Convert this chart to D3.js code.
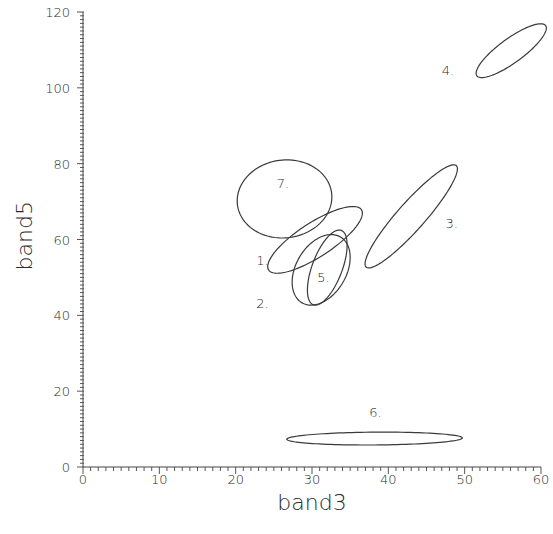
<!DOCTYPE html>
<html lang="en">
<head>
  <meta charset="UTF-8">
  <title>band3 vs band5 clusters</title>
  <script src="https://d3js.org/d3.v7.min.js"></script>
  <style>
    body { margin: 0; background: #fff; }
    text { font-family: "DejaVu Sans", sans-serif; font-weight: 200; fill: #2a2a2a; }
    .ell { fill: none; stroke: #3a3a3a; stroke-width: 1.2px; }
  </style>
</head>
<body>
  <svg width="553" height="534"></svg>
  <script>
    // cluster ellipses: mean, half-range, correlation
    const clusters = ["1.", "2.", "3.", "4.", "5.", "6.", "7."];
    const meanX = [30.4, 31.2, 43.0, 56.1, 32.0, 38.2, 26.4];
    const meanY = [59.9, 52.0, 66.1, 109.8, 52.6, 7.5, 70.7];
    const halfX = [6.2, 3.8, 6.05, 4.6, 2.6, 11.5, 6.2];
    const halfY = [8.8, 9.3, 13.6, 7.1, 9.9, 1.7, 10.3];
    const corr = [0.8, 0.35, 0.92, 0.84, 0.6, 0.1, 0.05];
    const labelX = [23.5, 23.5, 48.3, 47.8, 31.5, 38.3, 26.2];
    const labelY = [54.6, 43.3, 64.4, 104.7, 50.1, 14.5, 74.9];

    const xTicks = [0, 10, 20, 30, 40, 50, 60];
    const yTicks = [0, 20, 40, 60, 80, 100, 120];

    const svg = d3.select("svg");
    const x = d3.scaleLinear().domain([0, 60]).range([83, 541]);
    const y = d3.scaleLinear().domain([0, 120]).range([467, 12]);

    // axes with minor ticks every unit
    const gx = svg.append("g").attr("transform", `translate(0,${y(0)})`);
    gx.append("line").attr("x1", x(0)).attr("x2", x(60)).attr("stroke", "#444");
    gx.selectAll(".mt").data(d3.range(0, 61)).enter().append("line")
      .attr("x1", d => x(d)).attr("x2", d => x(d))
      .attr("y1", 0).attr("y2", d => d % 10 === 0 ? 7 : 4)
      .attr("stroke", "#555");
    gx.selectAll(".tl").data(xTicks).enter().append("text")
      .attr("x", d => x(d)).attr("y", 17)
      .attr("text-anchor", "middle").attr("font-size", 13)
      .text(d => d);

    const gy = svg.append("g").attr("transform", `translate(${x(0)},0)`);
    gy.append("line").attr("y1", y(0)).attr("y2", y(120)).attr("stroke", "#444");
    gy.selectAll(".mt").data(d3.range(0, 121)).enter().append("line")
      .attr("y1", d => y(d)).attr("y2", d => y(d))
      .attr("x1", d => d % 20 === 0 ? -6 : -3).attr("x2", 1)
      .attr("stroke", "#555");
    gy.selectAll(".tl").data(yTicks).enter().append("text")
      .attr("x", -13).attr("y", d => y(d) + 5)
      .attr("text-anchor", "end").attr("font-size", 13)
      .text(d => d);

    svg.append("text").attr("x", (x(0) + x(60)) / 2).attr("y", 510)
      .attr("text-anchor", "middle").attr("font-size", 22).text("band3");
    svg.append("text").attr("transform", `translate(32,${y(61)}) rotate(-90)`)
      .attr("text-anchor", "middle").attr("font-size", 22).text("band5");

    const line = d3.line().x(p => x(p[0])).y(p => y(p[1])).curve(d3.curveLinearClosed);
    const ts = d3.range(0, 2 * Math.PI, Math.PI / 60);

    svg.selectAll(".ell").data(clusters).enter().append("path")
      .attr("class", "ell")
      .attr("d", (c, i) => {
        const r = corr[i];
        return line(ts.map(t => [
          meanX[i] + halfX[i] * Math.cos(t),
          meanY[i] + halfY[i] * (r * Math.cos(t) + Math.sqrt(1 - r * r) * Math.sin(t))
        ]));
      });

    svg.selectAll(".lab").data(clusters).enter().append("text")
      .attr("x", (c, i) => x(labelX[i])).attr("y", (c, i) => y(labelY[i]) + 5)
      .attr("text-anchor", "middle").attr("font-size", 13)
      .text(c => c);
  </script>
</body>
</html>
